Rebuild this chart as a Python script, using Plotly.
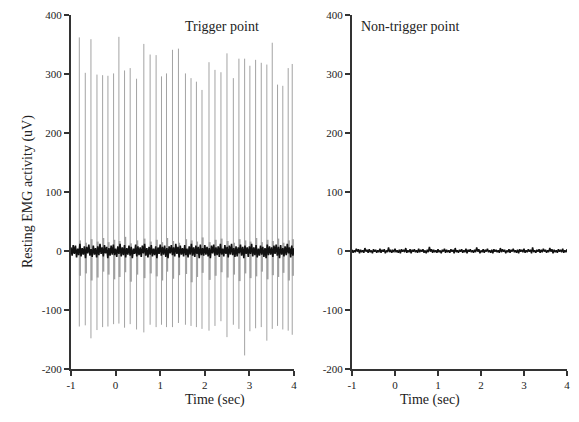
import numpy as np
import plotly.graph_objects as go

# spike times (sec), peak and trough (uV)
spike_t = [-0.814, -0.680, -0.553, -0.418, -0.291, -0.172, -0.045, 0.074, 0.201, 0.327,
           0.470, 0.633, 0.774, 0.908, 1.029, 1.141, 1.275, 1.409, 1.566, 1.691,
           1.812, 1.937, 2.094, 2.228, 2.362, 2.497, 2.640, 2.765, 2.893, 3.011,
           3.139, 3.266, 3.391, 3.512, 3.631, 3.749, 3.870, 3.960]
spike_peak = [362, 302, 359, 299, 298, 297, 301, 363, 306, 310,
              292, 351, 333, 332, 296, 301, 341, 343, 301, 293,
              287, 273, 320, 307, 303, 335, 293, 326, 326, 314,
              324, 319, 316, 353, 282, 280, 310, 317]
spike_trough = [-128, -126, -148, -134, -129, -128, -124, -123, -130, -124,
                -133, -138, -125, -129, -125, -129, -129, -122, -125, -127,
                -129, -132, -135, -127, -119, -146, -125, -132, -177, -136,
                -131, -129, -152, -132, -127, -133, -135, -142]
# smaller deflections that follow each spike
burst_top = [18, 14, 20, 16, 22, 15, 19, 17, 24, 13, 18, 21, 16, 19, 15, 22, 17, 14, 20,
             18, 16, 23, 15, 19, 21, 17, 14, 20, 18, 16, 22, 15, 19, 17, 21, 14, 18, 20]
burst_bottom = [-42, -38, -50, -45, -35, -40, -48, -44, -36, -52, -40, -46, -38, -43, -50,
                -35, -47, -41, -39, -53, -44, -37, -49, -42, -36, -45, -40, -51, -38, -46,
                -43, -35, -48, -41, -44, -37, -50, -42]

# baseline noise, trigger point
trigger_noise = [
    6, -8, 10, -5, 9, -11, 4, -7, 12, -9, 5, -6, 8, -12, 7, -4, 11, -8, 3, -10,
    9, -6, 5, -11, 8, -7, 12, -5, 6, -9, 10, -4, 7, -12, 5, -8, 9, -6, 11, -7,
    4, -10, 8, -5, 12, -9, 6, -7, 10, -11, 5, -6, 9, -8, 7, -12, 4, -5, 11, -9,
    8, -7, 6, -10, 9, -4, 12, -8, 5, -11, 7, -6, 10, -9, 4, -7, 8, -12, 6, -5,
    11, -8, 7, -6, 9, -10, 5, -12, 8, -4, 10, -7, 6, -9, 12, -5, 7, -11, 9, -6,
    5, -9, 10, -7, 4, -11, 8, -6, 12, -8, 6, -10, 9, -5, 7, -12, 11, -7, 5, -8,
    10, -6, 7, -9, 5, -12, 9, -4, 11, -8, 6, -7, 8, -10, 12, -6, 4, -9, 10, -5,
    7, -11, 9, -6, 12, -7, 5, -10, 8, -9, 6, -4, 11, -8, 7, -12, 9, -5, 6, -10,
    8, -5, 12, -9, 6, -7, 10, -11, 4, -8, 9, -6, 7, -10, 5, -12, 11, -7, 8, -6,
    6, -10, 9, -5, 11, -8, 7, -12, 10, -6, 5, -9, 8, -7, 12, -4, 6, -11, 9, -8, 5]

# baseline noise, non-trigger point
nontrigger_noise = [
    2, -3, 1, -2, 4, -1, 3, -4, 2, -2, 1, -3, 5, -1, 2, -3, 3, -2, 1, -4,
    3, -1, 2, -3, 1, -2, 4, -3, 2, -1, 3, -4, 1, -2, 6, -2, 2, -3, 1, -1,
    4, -2, 1, -3, 2, -4, 3, -1, 2, -2, 5, -3, 1, -2, 3, -4, 2, -1, 3, -2,
    1, -3, 4, -2, 2, -1, 3, -3, 1, -4, 2, -2, 7, -1, 3, -3, 2, -2, 1, -3,
    3, -2, 1, -4, 2, -1, 4, -3, 2, -2, 1, -3, 3, -1, 2, -4, 5, -2, 1, -3,
    2, -1, 3, -3, 1, -2, 4, -4, 2, -1, 3, -2, 1, -3, 2, -2, 6, -1, 3, -4,
    1, -2, 3, -3, 2, -1, 4, -2, 1, -3, 2, -4, 3, -1, 2, -2, 1, -3, 5, -2,
    3, -1, 2, -4, 1, -2, 3, -3, 2, -1, 4, -2, 1, -3, 2, -4, 3, -1, 2, -2,
    4, -3, 1, -2, 3, -1, 2, -4, 6, -2, 1, -3, 2, -1, 3, -3, 2, -2, 4, -1,
    2, -3, 1, -2, 5, -1, 3, -4, 2, -2, 1, -3, 3, -1, 2, -2, 4, -3, 1, -2, 3]

x_ticks = [-1, 0, 1, 2, 3, 4]
y_ticks = [-200, -100, 0, 100, 200, 300, 400]

t_noise = np.linspace(-1, 4, len(trigger_noise))
t_noise2 = np.linspace(-1, 4, len(nontrigger_noise))

FONT = "Liberation Serif"
OFF = 8  # page body margin
W, H = 579 - OFF, 422 - 2 * OFF


def px(x):
    return (x - OFF) / W


def py(y):
    return 1 - (y - OFF) / H


fig = go.Figure()

# gray smear following each spike
bx, by = [], []
for t, lo, hi in zip(spike_t, burst_bottom, burst_top):
    bx += [t + 0.015, t + 0.015, None]
    by += [lo, hi, None]
fig.add_trace(go.Scatter(x=bx, y=by, mode="lines", line=dict(color="#444444", width=2),
                         opacity=0.5, xaxis="x", yaxis="y", hoverinfo="skip"))

# spikes
sx, sy = [], []
for t, p, tr in zip(spike_t, spike_peak, spike_trough):
    sx += [t, t, None]
    sy += [tr, p, None]
fig.add_trace(go.Scatter(x=sx, y=sy, mode="lines", line=dict(color="#a3a3a3", width=1),
                         xaxis="x", yaxis="y"))

fig.add_trace(go.Scatter(x=t_noise, y=trigger_noise, mode="lines",
                         line=dict(color="#111111", width=1.6), xaxis="x", yaxis="y"))
fig.add_trace(go.Scatter(x=t_noise2, y=nontrigger_noise, mode="lines",
                         line=dict(color="#111111", width=1.5), xaxis="x2", yaxis="y2"))

axis_style = dict(showline=True, linecolor="#333333", linewidth=2, ticks="outside",
                  ticklen=5, tickwidth=2, tickcolor="#333333", showgrid=False,
                  zeroline=False, automargin=False, ticklabeloverflow="allow",
                  tickfont=dict(family=FONT, size=11, color="#222222"))
xt = dict(range=[-1, 4], tickvals=x_ticks, ticktext=[str(v) for v in x_ticks])
yt = dict(range=[-200, 400], tickvals=y_ticks, ticktext=[str(v) for v in y_ticks])
ydom = [py(369), py(15)]

fig.update_layout(
    template="none",
    width=W, height=H, margin=dict(l=0, r=0, t=0, b=0, pad=0),
    plot_bgcolor="white", paper_bgcolor="white", showlegend=False,
    xaxis=dict(domain=[px(71), px(294)], anchor="y", **xt, **axis_style),
    yaxis=dict(domain=ydom, anchor="x", **yt, **axis_style),
    xaxis2=dict(domain=[px(352), px(567)], anchor="y2", **xt, **axis_style),
    yaxis2=dict(domain=ydom, anchor="x2", **yt, **axis_style),
    annotations=[
        dict(text="Trigger point", x=px(183), y=py(17), xref="paper", yref="paper",
             showarrow=False, font=dict(family=FONT, size=14, color="#222222")),
        dict(text="Non-trigger point", x=px(461), y=py(17), xref="paper", yref="paper",
             showarrow=False, font=dict(family=FONT, size=14, color="#222222")),
        dict(text="Time (sec)", x=px(183), y=py(410), xref="paper", yref="paper",
             showarrow=False, font=dict(family=FONT, size=14, color="#222222")),
        dict(text="Time (sec)", x=px(462), y=py(410), xref="paper", yref="paper",
             showarrow=False, font=dict(family=FONT, size=14, color="#222222")),
        dict(text="Resting EMG activity (uV)", x=px(18), y=py(192), xref="paper",
             yref="paper", showarrow=False, textangle=-90,
             font=dict(family=FONT, size=14, color="#222222")),
    ],
)

fig.write_html("out.html")
